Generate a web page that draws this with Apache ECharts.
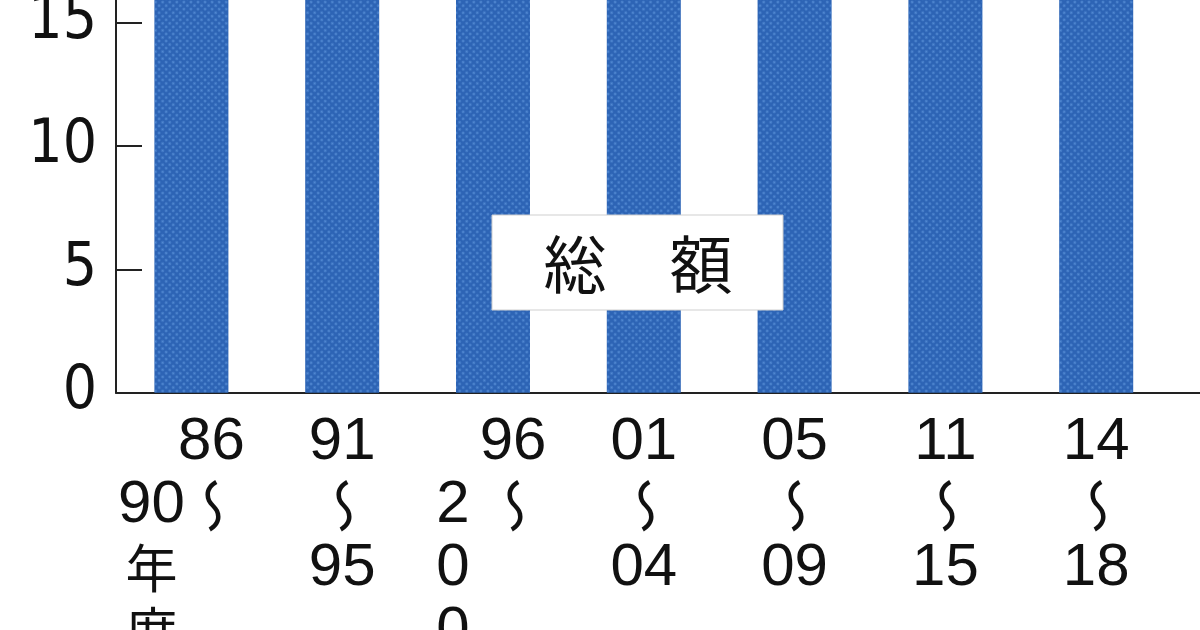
<!DOCTYPE html>
<html>
<head>
<meta charset="utf-8">
<script src="https://cdn.jsdelivr.net/npm/echarts@6/dist/echarts.min.js"></script>
<style>
html,body{margin:0;padding:0;background:#fff;}
#chart{width:1200px;height:630px;}
</style>
</head>
<body>
<div id="chart"></div>
<script>
// ---- data ----
const categories = ['86〜90年度', '91〜95年度', '96〜2000年度', '01〜04年度', '05〜09年度', '11〜15年度', '14〜18年度', '19〜23年度'];
const totals = [18.4, 22.75, 25.15, 25.16, 24.24, 23.49, 24.67, 27.47]; // 兆円
const tickLabelColumns = [
  [['86', '〜'], ['', '90', '年', '度']],
  [['91', '〜', '95']],
  [['96', '〜'], ['', '2', '0', '0', '0']],
  [['01', '〜', '04']],
  [['05', '〜', '09']],
  [['11', '〜', '15']],
  [['14', '〜', '18']],
  [['19', '〜', '23']]
];
const panelTitle = '総　額';

// ---- chart ----
const chart = echarts.init(document.getElementById('chart'), null, {renderer: 'canvas'});
const numFont = "'Liberation Sans', Arial, sans-serif";
const cjkFont = "'Noto Sans CJK JP', sans-serif";

function renderTickLabel(params, api) {
  const idx = api.value(0);
  const pt = api.coord([idx, 0]);
  const cols = tickLabelColumns[idx];
  const offsets = cols.length === 2 ? [20, -40] : [0];
  const children = [];
  cols.forEach((col, ci) => {
    col.forEach((t, ri) => {
      if (!t) return;
      const isWave = t === '〜';
      const isCjk = /[年度]/.test(t);
      children.push({
        type: 'text',
        x: pt[0] + offsets[ci] + (isWave ? 2 : 0),
        y: pt[1] + 50 + ri * 63,
        rotation: isWave ? -Math.PI / 2 : 0,
        scaleX: isWave ? -1 : 1,
        style: {
          text: t,
          fill: '#111',
          fontSize: isWave ? 56 : (isCjk ? 52 : 60),
          fontFamily: (isWave || isCjk) ? cjkFont : numFont,
          align: 'center',
          verticalAlign: 'middle'
        }
      });
    });
  });
  return {type: 'group', children: children};
}

const option = {
  backgroundColor: '#ffffff',
  animation: false,
  grid: {left: 116, right: -122.4, top: -347.4, bottom: 237.3, containLabel: false, outerBoundsMode: 'none'},
  xAxis: {
    type: 'category',
    data: categories,
    axisLine: {show: true, lineStyle: {color: '#222', width: 2}},
    axisTick: {show: false},
    axisLabel: {show: false}
  },
  yAxis: {
    type: 'value',
    min: 0,
    max: 30,
    interval: 5,
    axisLine: {show: true, lineStyle: {color: '#222', width: 2}},
    axisTick: {show: true, inside: true, length: 26, lineStyle: {color: '#222', width: 2}},
    splitLine: {show: false},
    axisLabel: {
      margin: 19,
      fontSize: 60,
      color: '#111',
      fontFamily: "'Liberation Sans Narrow', 'DejaVu Sans Condensed', 'Liberation Sans', sans-serif"
    }
  },
  series: [
    {
      name: panelTitle,
      type: 'bar',
      data: totals,
      barWidth: 74,
      itemStyle: {
        color: '#2d64b5',
        decal: {
          symbol: 'circle',
          symbolSize: 0.8,
          dashArrayX: [[3, 2]],
          dashArrayY: [3, 2],
          color: 'rgba(115,170,235,0.55)',
          rotation: Math.PI / 4
        }
      }
    },
    {
      type: 'custom',
      data: categories.map((c, i) => [i, 0]),
      encode: {x: 0, y: 1},
      renderItem: renderTickLabel,
      clip: false,
      silent: true,
      z: 5
    }
  ],
  graphic: [
    {
      type: 'rect',
      shape: {x: 492, y: 215, width: 291, height: 95},
      style: {fill: '#ffffff', stroke: '#cfcfcf', lineWidth: 1},
      z: 100
    },
    {
      type: 'text',
      x: 638,
      y: 264,
      style: {
        text: panelTitle,
        fill: '#111',
        fontSize: 63,
        fontFamily: cjkFont,
        align: 'center',
        verticalAlign: 'middle'
      },
      z: 101
    }
  ]
};
chart.setOption(option);
</script>
</body>
</html>
